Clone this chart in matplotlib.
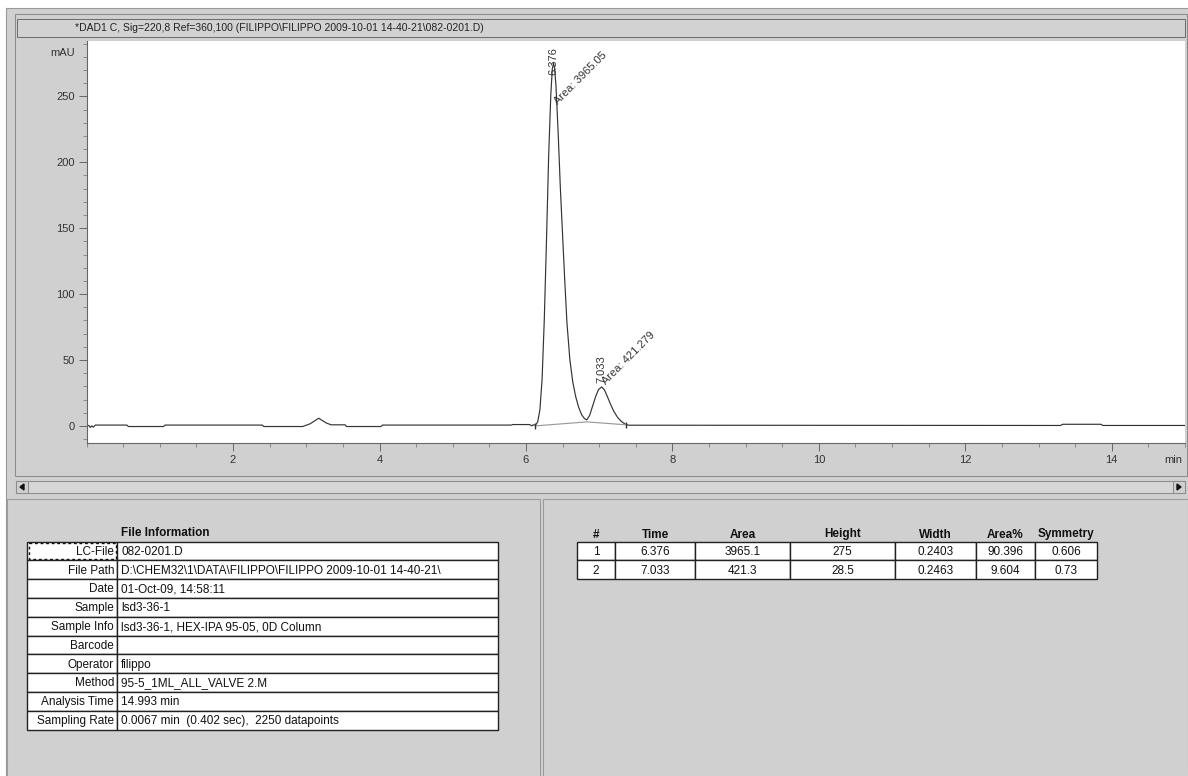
import matplotlib
matplotlib.use('Agg')
import matplotlib.pyplot as plt
from matplotlib.patches import Rectangle, Polygon
from matplotlib.ticker import MultipleLocator

plt.rcParams['font.family'] = ['Liberation Sans', 'DejaVu Sans']

# chromatogram trace (min, mAU)
trace_t = [0.00, 0.03, 0.05, 0.07, 0.09, 0.12, 0.55, 0.57, 1.05, 1.07, 2.40, 2.42,
           2.95, 3.05, 3.12, 3.17, 3.22, 3.28, 3.34, 3.53, 3.55, 4.02, 4.04, 5.80,
           5.82, 6.05, 6.08, 6.10, 6.13, 6.16, 6.19, 6.22, 6.25, 6.28, 6.31, 6.34,
           6.36, 6.376, 6.39, 6.41, 6.44, 6.47, 6.50, 6.53, 6.56, 6.60, 6.64, 6.68,
           6.72, 6.76, 6.80, 6.83, 6.87, 6.91, 6.95, 6.99, 7.033, 7.07, 7.11, 7.15,
           7.20, 7.25, 7.30, 7.35, 7.40, 13.30, 13.33, 13.85, 13.88, 15.00]
trace_v = [0.3, 0.3, -1.2, 0.0, -1.0, 0.6, 0.6, -0.5, -0.5, 0.6, 0.6, -0.5,
           -0.5, 1.5, 4.0, 5.8, 4.0, 2.0, 0.8, 0.8, -0.5, -0.5, 0.6, 0.6,
           1.0, 1.0, 0.0, 0.8, 0.5, 3.0, 12, 35, 80, 140, 205, 252,
           271, 275, 272, 258, 222, 180, 145, 110, 78, 50, 33, 22,
           14, 8.5, 5.5, 4.5, 8, 15, 22, 27.5, 29.5, 27.5, 22.5, 17,
           11, 6.5, 3.5, 1.5, 0.5, 0.3, 1.2, 1.2, 0.3, 0.3]

# integration baseline
base_t = [6.13, 6.83, 7.37]
base_v = [0.0, 3.0, 0.8]

# peaks
peak_rt = [6.376, 7.033]
peak_h = [275, 29.5]
peak_area = ['3965.05', '421.279']

title = r'*DAD1 C, Sig=220,8 Ref=360,100 (FILIPPO\FILIPPO 2009-10-01 14-40-21\082-0201.D)'

info_labels = ['LC-File', 'File Path', 'Date', 'Sample', 'Sample Info', 'Barcode',
               'Operator', 'Method', 'Analysis Time', 'Sampling Rate']
info_values = ['082-0201.D', 'D:\\CHEM32\\1\\DATA\\FILIPPO\\FILIPPO 2009-10-01 14-40-21\\',
               '01-Oct-09, 14:58:11', 'lsd3-36-1', 'lsd3-36-1, HEX-IPA 95-05, 0D Column', '',
               'filippo', '95-5_1ML_ALL_VALVE 2.M', '14.993 min',
               '0.0067 min  (0.402 sec),  2250 datapoints']

res_cols = ['#', 'Time', 'Area', 'Height', 'Width', 'Area%', 'Symmetry']
res_num = ['1', '2']
res_time = ['6.376', '7.033']
res_area = ['3965.1', '421.3']
res_height = ['275', '28.5']
res_width = ['0.2403', '0.2463']
res_pct = ['90.396', '9.604']
res_sym = ['0.606', '0.73']

GRAY = '#d0d0d0'
INK = '#222222'
TFS = 8.5

fig = plt.figure(figsize=(11.88, 7.76), dpi=100, facecolor=GRAY)

# pixel overlay for the window chrome and tables
bg = fig.add_axes([0, 0, 1, 1], zorder=0)
bg.set_xlim(0, 1188)
bg.set_ylim(776, 0)
bg.axis('off')


def box(x0, y0, x1, y1, fc='none', ec='#888888', lw=0.75, ls='-'):
    bg.add_patch(Rectangle((x0, y0), x1 - x0, y1 - y0, facecolor=fc,
                           edgecolor=ec, lw=lw, ls=ls))


# white margins
box(0, 0, 1188, 7.5, fc='white', ec='none')
box(0, 0, 6, 776, fc='white', ec='none')
bg.plot([6, 1188], [8, 8], color='#9a9a9a', lw=0.8)
bg.plot([6, 6], [8, 776], color='#9a9a9a', lw=0.8)

# chart frame + title bar
box(15, 14, 1187, 476, ec='#8c8c8c')
box(17, 19, 1185, 37, fc='#d2d2d2', ec='#6e6e6e')
bg.text(75, 28, title, fontsize=7.5, color='#222222', ha='left', va='center')
bg.text(1173, 460, 'min', fontsize=8, color='#333333', ha='center', va='center')

# scroll bar
box(16, 481, 1185, 493, fc='#d6d6d6', ec='#8c8c8c')
box(16, 481, 28, 493, fc='#d0d0d0', ec='#8c8c8c')
box(1173, 481, 1185, 493, fc='#d0d0d0', ec='#8c8c8c')
bg.add_patch(Polygon([(20, 487), (24, 484), (24, 490)], color='#111111'))
bg.add_patch(Polygon([(1181, 487), (1177, 484), (1177, 490)], color='#111111'))

# lower panels
box(7, 499, 540, 775.5, ec='#9a9a9a')
box(543, 499, 1187.5, 775.5, ec='#9a9a9a')

# file information table
tx0, tdiv, tx1, ty0, rh = 27, 117, 498, 541.5, 18.8
bg.text(165, ty0 - 5, 'File Information', fontsize=TFS,
        fontweight='bold', color='#111111', ha='center', va='baseline')
for i, (lab, val) in enumerate(zip(info_labels, info_values)):
    y0 = ty0 + i * rh
    box(tx0, y0, tdiv, y0 + rh, fc='white', ec=INK, lw=1.0)
    box(tdiv, y0, tx1, y0 + rh, fc='white', ec=INK, lw=1.0)
    bg.text(tdiv - 3, y0 + rh / 2 + 4, lab, fontsize=TFS,
            color='#111111', ha='right', va='baseline')
    bg.text(tdiv + 4, y0 + rh / 2 + 4, val, fontsize=TFS,
            color='#111111', ha='left', va='baseline')
box(tx0 + 1.5, ty0 + 1.5, tdiv - 1.5, ty0 + rh - 1.5, ec='#111111', lw=1.0,
    ls=(0, (2, 2)))

# peak result table
col_x = [577, 615, 695, 790, 895, 976, 1035, 1097]
res_rows = list(zip(res_num, res_time, res_area, res_height, res_width, res_pct, res_sym))
for j, name in enumerate(res_cols):
    bg.text((col_x[j] + col_x[j + 1]) / 2, ty0 - 4, name, fontsize=TFS,
            fontweight='bold', color='#111111', ha='center', va='baseline')
for i, row in enumerate(res_rows):
    y0 = ty0 + i * rh
    for j, val in enumerate(row):
        box(col_x[j], y0, col_x[j + 1], y0 + rh, fc='white', ec=INK, lw=1.0)
        bg.text((col_x[j] + col_x[j + 1]) / 2, y0 + rh / 2 + 4, val,
                fontsize=TFS, color='#111111', ha='center', va='baseline')

# chromatogram axes
L, R, T, B = 86.6, 1185, 41, 443
ax = fig.add_axes([L / 1188, 1 - B / 776, (R - L) / 1188, (B - T) / 776], zorder=2)
ax.set_facecolor('white')
ax.plot(trace_t, trace_v, color='#333333', lw=0.85)
ax.plot(base_t, base_v, color='#9a9a9a', lw=0.85, marker='|', markersize=4,
        markevery=[0, 2], markeredgecolor='#333333')
ymin, ymax = -13, 292
ax.set_xlim(0, 15)
ax.set_ylim(ymin, ymax)
ax.set_xticks(range(2, 15, 2))
ax.xaxis.set_minor_locator(MultipleLocator(0.5))
ax.yaxis.set_major_locator(MultipleLocator(50))
ax.yaxis.set_minor_locator(MultipleLocator(10))
for s in ['top', 'right']:
    ax.spines[s].set_visible(False)
for s in ['left', 'bottom']:
    ax.spines[s].set_color('#666666')
    ax.spines[s].set_linewidth(0.8)
ax.tick_params(which='major', length=5.5, width=0.7, color='#666666',
               labelsize=8, labelcolor='#333333', pad=3)
ax.tick_params(which='minor', length=3, width=0.7, color='#888888')
ax.text(-0.0105, 283, 'mAU', transform=ax.get_yaxis_transform(), fontsize=8,
        color='#333333', ha='right', va='center')

# peak labels
for rt, h, area in zip(peak_rt, peak_h, peak_area):
    ly = min(h + 3, ymax - 26)
    ax.text(rt, ly, f'{rt:.3f}', rotation=90, fontsize=8, color='#333333',
            ha='center', va='bottom')
    ax.text(rt + 0.035, min(h + 3, ymax - 47), 'Area: ' + area, rotation=45,
            rotation_mode='anchor', fontsize=8, color='#333333', ha='left', va='center')

fig.savefig('out.png', dpi=100, facecolor=GRAY)
